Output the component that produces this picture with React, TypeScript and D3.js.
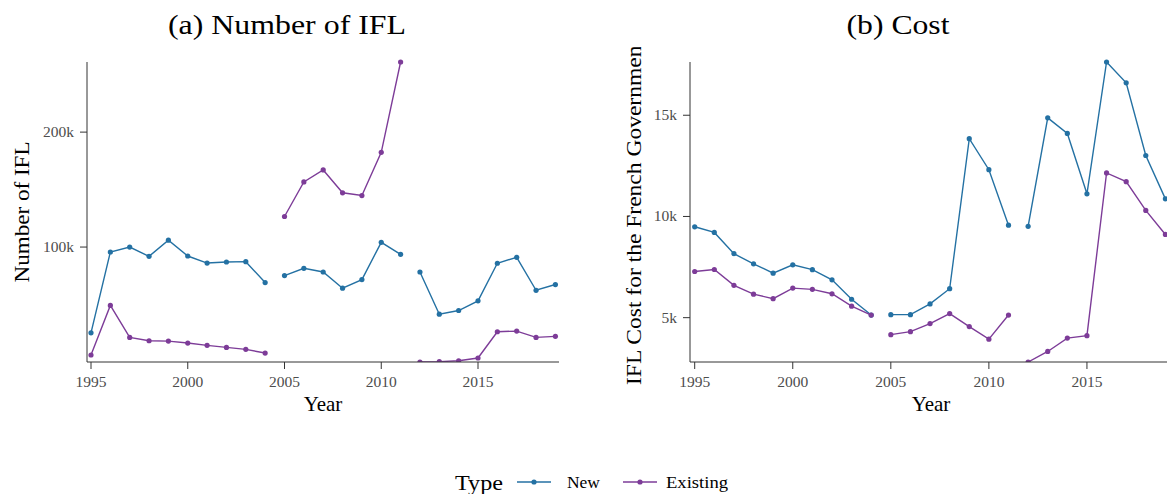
import React from "react";
import * as d3 from "d3";

const years = [1995, 1996, 1997, 1998, 1999, 2000, 2001, 2002, 2003, 2004, 2005, 2006, 2007, 2008, 2009, 2010, 2011, 2012, 2013, 2014, 2015, 2016, 2017, 2018, 2019];
const periodStarts = [1995, 2005, 2012];

const numberNew = [25400, 95700, 100000, 91900, 106000, 92200, 86100, 87000, 87300, 69100, 75200, 81500, 78300, 64200, 71700, 104100, 93700, 78300, 41600, 44800, 53200, 85900, 91100, 62400, 67400];
const numberExisting = [6100, 49200, 21400, 18500, 18200, 16500, 14500, 12700, 11000, 7800, 126600, 156700, 167100, 147200, 144800, 182400, 261000, 0, 300, 1100, 3500, 26300, 26900, 21400, 22300];

const costNew = [9490, 9210, 8160, 7660, 7200, 7610, 7370, 6870, 5910, 5130, 5150, 5150, 5680, 6430, 13840, 12310, 9570, 9510, 14870, 14100, 11120, 17630, 16600, 13010, 10870];
const costExisting = [7280, 7380, 6600, 6160, 5940, 6460, 6400, 6180, 5570, 5130, 4160, 4310, 4710, 5200, 4560, 3940, 5130, 2810, 3330, 3990, 4110, 12150, 11720, 10300, 9110];

const typeLabels = ["New", "Existing"];
const colors = ["#2471a3", "#7d3c98"];

const numberTicks = [100000, 200000];
const costTicks = [5000, 10000, 15000];
const yearTicks = [1995, 2000, 2005, 2010, 2015];

const FONT = "'Liberation Serif', 'Times New Roman', serif";
const TICK_COLOR = "#4d4d4d";
const AXIS_COLOR = "#333333";

type PanelProps = {
  id: string;
  title: string;
  titleX: number;
  titleLen: number;
  yLabel: string;
  yLabelLen: number;
  series: number[][];
  yDomain: [number, number];
  yTicks: number[];
  axisLeft: number;
  axisRight: number;
  xFirst: number;
  xLast: number;
  yLabelX: number;
};

function periodOf(y: number) {
  let p = 0;
  periodStarts.forEach((s, i) => {
    if (y >= s) p = i;
  });
  return p;
}

function Panel(props: PanelProps) {
  const top = 62;
  const bottom = 362;
  const tickLen = 7;
  const x = d3.scaleLinear().domain([years[0], years[years.length - 1]]).range([props.xFirst, props.xLast]);
  const y = d3.scaleLinear().domain(props.yDomain).range([bottom, top]);
  const line = d3
    .line<[number, number]>()
    .x((d) => x(d[0]))
    .y((d) => y(d[1]));
  const centerX = (props.axisLeft + Math.min(props.axisRight, 1172)) / 2;
  const centerY = (top + bottom) / 2;
  const clipId = `clip-${props.id}`;
  const labClip = `labclip-${props.id}`;
  return (
    <g>
      <defs>
        <clipPath id={clipId}>
          <rect x={props.axisLeft} y={top - 3} width={props.axisRight - props.axisLeft} height={bottom - top + 3} />
        </clipPath>
        <clipPath id={labClip}>
          <rect x={0} y={47} width={1167} height={420} />
        </clipPath>
      </defs>
      <text
        x={props.titleX}
        y={34}
        fontFamily={FONT}
        fontSize={27}
        textAnchor="middle"
        fill="#000"
        textLength={props.titleLen}
        lengthAdjust="spacingAndGlyphs"
      >
        {props.title}
      </text>
      <g clipPath={`url(#${clipId})`}>
        {props.series.map((vals, si) => {
          const pts: [number, number][] = years.map((yr, i) => [yr, vals[i]]);
          const groups = periodStarts.map((_, pi) => pts.filter((p) => periodOf(p[0]) === pi));
          return (
            <g key={si}>
              {groups.map((g, gi) => (
                <path key={gi} d={line(g) || ""} fill="none" stroke={colors[si]} strokeWidth={1.4} />
              ))}
              {pts.map((p, i) => (
                <circle key={i} cx={x(p[0])} cy={y(p[1])} r={2.6} fill={colors[si]} />
              ))}
            </g>
          );
        })}
      </g>
      <line x1={props.axisLeft} x2={props.axisLeft} y1={top} y2={bottom} stroke={AXIS_COLOR} strokeWidth={1} />
      <line x1={props.axisLeft} x2={props.axisRight} y1={bottom} y2={bottom} stroke={AXIS_COLOR} strokeWidth={1} />
      {props.yTicks.map((t) => (
        <g key={t}>
          <line x1={props.axisLeft - tickLen} x2={props.axisLeft} y1={y(t)} y2={y(t)} stroke={AXIS_COLOR} strokeWidth={1} />
          <text x={props.axisLeft - 13} y={y(t) + 5} fontFamily={FONT} fontSize={15.5} fill={TICK_COLOR} textAnchor="end">
            {d3.format("~s")(t)}
          </text>
        </g>
      ))}
      {yearTicks.map((t) => (
        <g key={t}>
          <line x1={x(t)} x2={x(t)} y1={bottom} y2={bottom + tickLen} stroke={AXIS_COLOR} strokeWidth={1} />
          <text x={x(t)} y={bottom + 25} fontFamily={FONT} fontSize={15.5} fill={TICK_COLOR} textAnchor="middle">
            {t}
          </text>
        </g>
      ))}
      <text x={centerX} y={411} fontFamily={FONT} fontSize={21} textAnchor="middle" fill="#000">
        Year
      </text>
      <g clipPath={`url(#${labClip})`}>
        <text
          transform={`translate(${props.yLabelX},${centerY}) rotate(-90)`}
          fontFamily={FONT}
          fontSize={21}
          textAnchor="middle"
          fill="#000"
          textLength={props.yLabelLen}
          lengthAdjust="spacingAndGlyphs"
        >
          {props.yLabel}
        </text>
      </g>
    </g>
  );
}

export default function App() {
  const legendX = [517, 623];
  const legendTextX = [567, 666];
  const legendTextLen = [33, 62];
  return (
    <svg width={1167} height={494} style={{ position: "absolute", left: 0, top: 0, background: "#fff" }}>
      <rect width={1167} height={494} fill="#fff" />
      <Panel
        id="a"
        title="(a) Number of IFL"
        titleX={287}
        titleLen={238}
        yLabel="Number of IFL"
        yLabelLen={141}
        series={[numberNew, numberExisting]}
        yDomain={[0, 261000]}
        yTicks={numberTicks}
        axisLeft={87}
        axisRight={559}
        xFirst={91}
        xLast={555.4}
        yLabelX={29}
      />
      <Panel
        id="b"
        title="(b) Cost"
        titleX={898}
        titleLen={103}
        yLabel="IFL Cost for the French Government"
        yLabelLen={346}
        series={[costNew, costExisting]}
        yDomain={[2810, 17630]}
        yTicks={costTicks}
        axisLeft={690}
        axisRight={1172}
        xFirst={694.7}
        xLast={1165.4}
        yLabelX={641}
      />
      <g fontFamily={FONT}>
        <text x={455} y={490} fontSize={21} fill="#000" textLength={48} lengthAdjust="spacingAndGlyphs">
          Type
        </text>
        {typeLabels.map((lab, i) => {
          const kx = legendX[i];
          return (
            <g key={lab}>
              <line x1={kx} x2={kx + 34} y1={482} y2={482} stroke={colors[i]} strokeWidth={1.4} />
              <circle cx={kx + 17} cy={482} r={2.6} fill={colors[i]} />
              <text
                x={legendTextX[i]}
                y={488}
                fontSize={16}
                fill="#000"
                textLength={legendTextLen[i]}
                lengthAdjust="spacingAndGlyphs"
              >
                {lab}
              </text>
            </g>
          );
        })}
      </g>
    </svg>
  );
}
